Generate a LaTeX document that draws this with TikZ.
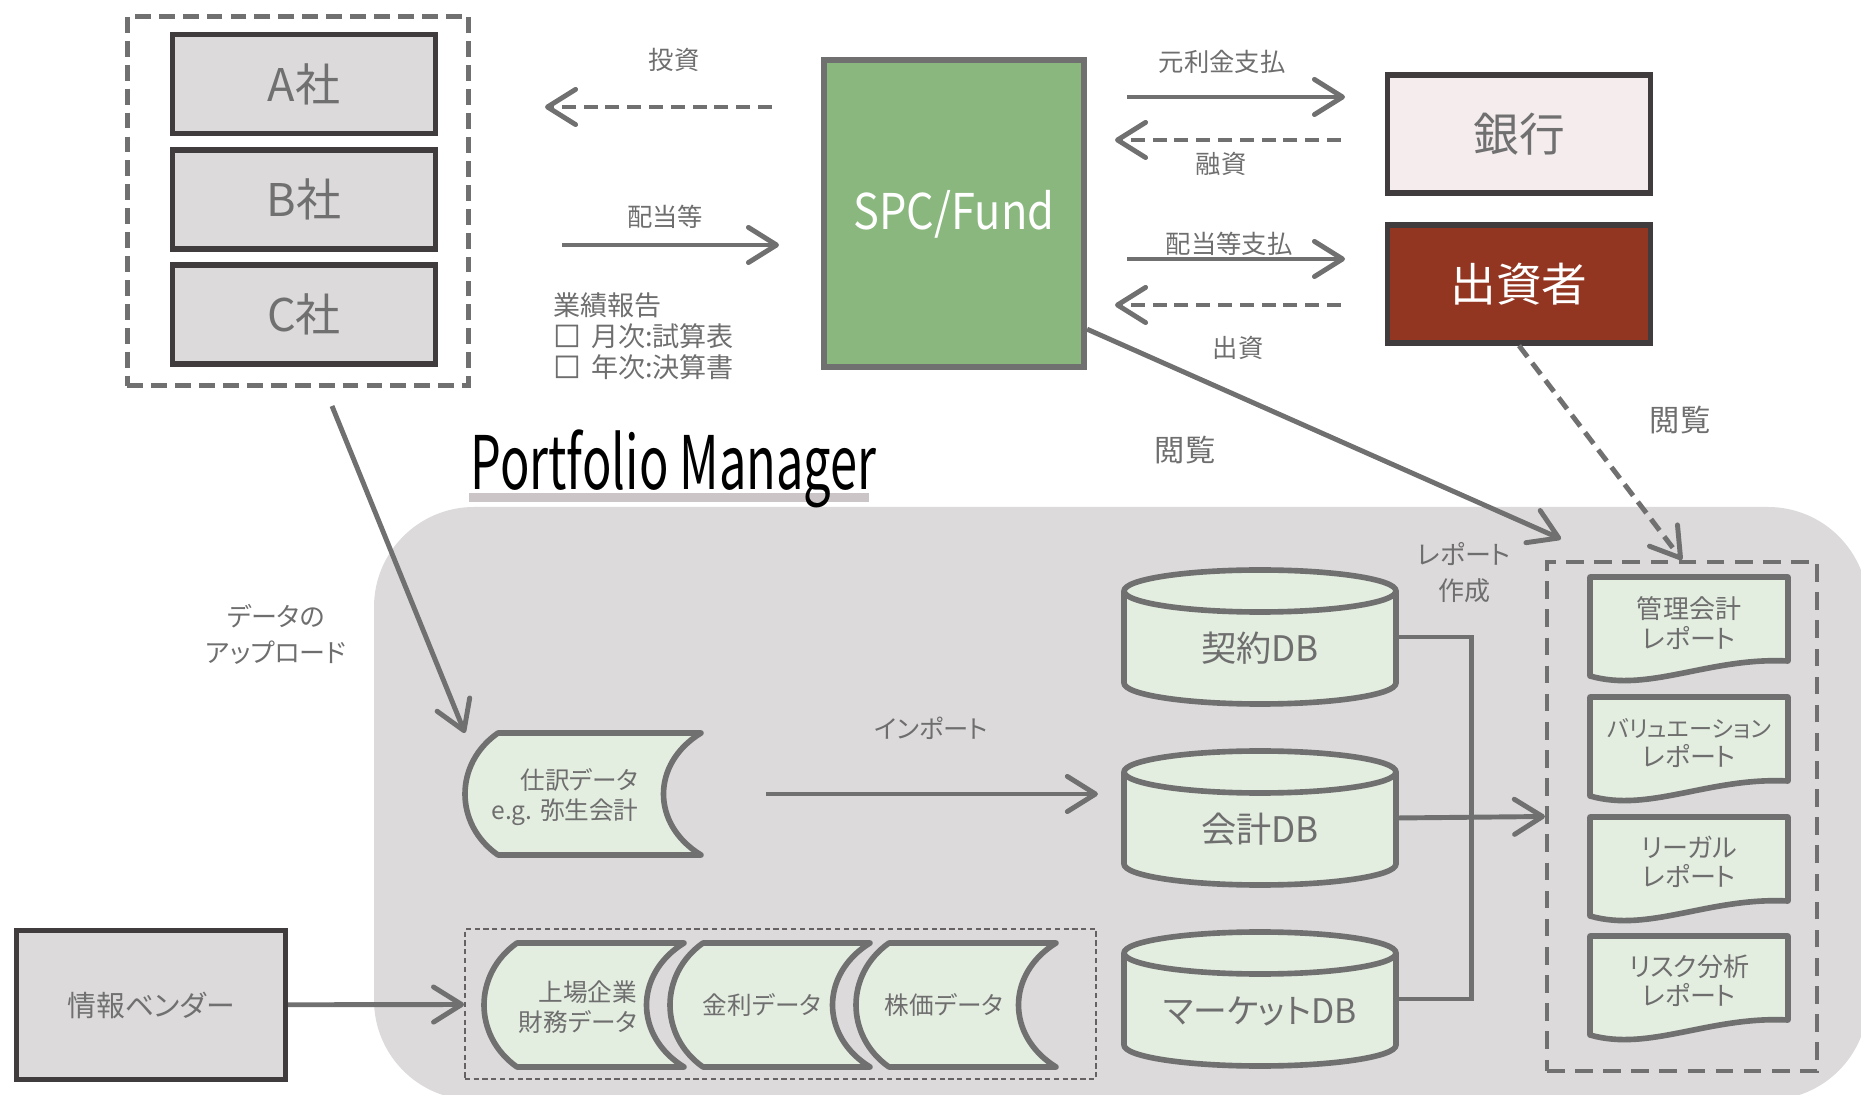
\documentclass[tikz,border=0pt]{standalone}
\usepackage{fontspec}
\usepackage{graphicx}
\setmainfont{Noto Sans CJK JP}[RawFeature={+palt}]
\usetikzlibrary{arrows.meta}
\usetikzlibrary{calc}
\definecolor{lineg}{HTML}{707070}
\definecolor{darkb}{HTML}{403B3C}
\definecolor{boxg}{HTML}{DCDADB}
\definecolor{spcg}{HTML}{8AB77E}
\definecolor{bankp}{HTML}{F4ECED}
\definecolor{invr}{HTML}{923521}
\definecolor{paleg}{HTML}{E3EDE0}
\definecolor{txtg}{HTML}{6E6E6E}
\definecolor{barg}{HTML}{CCC5C8}
\newcommand{\chkbox}{{\addfontfeature{FakeBold=3}□}\hspace{3pt}}
\tikzset{
every picture/.style={line width=1.4pt,
                      >={Straight Barb[length=8pt,width=10pt,round]}},
%%%%%%%%%%  Node styles
company/.style={draw=darkb, fill=boxg, line width=1.5pt, text=lineg,
                minimum width=2.63cm, minimum height=0.99cm,
                font=\fontsize{12.8}{14}\selectfont},
partner/.style={draw=darkb, line width=1.5pt,
                minimum width=2.63cm, minimum height=1.18cm,
                font=\fontsize{13}{15}\selectfont},
spcbox/.style={draw=lineg, fill=spcg, line width=1.7pt, text=white,
               minimum width=2.6cm, minimum height=3.07cm,
               text height=13pt, text depth=4pt,
               font=\fontsize{14}{16}\selectfont},
grpbox/.style={draw=lineg, line width=1.4pt, dash pattern=on 4.5pt off 2.3pt,
               minimum width=3.41cm, minimum height=3.69cm},
holder/.style={inner sep=0pt, outer sep=0pt},
dbbox/.style={holder, minimum width=2.72cm, minimum height=1.34cm, text=txtg,
              text height=15pt, text depth=1pt,
              font=\fontsize{10}{12}\selectfont},
repbox/.style={draw=lineg, line width=1.1pt, dash pattern=on 5pt off 3pt,
               minimum width=2.7cm, minimum height=5.09cm},
tapebox/.style={draw=darkb!80, line width=0.4pt, dash pattern=on 1.5pt off 1pt,
                minimum width=6.31cm, minimum height=1.5cm},
%%%%%%% text styles
lbl/.style={inner sep=0pt, text=txtg, align=center,
            font=\fontsize{7.2}{8.8}\selectfont},
biglbl/.style={lbl, font=\fontsize{8.6}{10}\selectfont},
twolbl/.style={lbl, font=\fontsize{7.4}{10.2}\selectfont},
tapetext/.style={inner sep=0pt, text=txtg, font=\fontsize{7}{8.4}\selectfont},
reptext/.style={inner sep=0pt, text=txtg, align=center,
                font=\fontsize{7.4}{8.3}\selectfont},
title/.style={inner sep=0pt, xscale=0.66, font=\fontsize{21}{24}\selectfont},
%%%%%%% line styles
arr/.style={draw=lineg, ->},
dasharr/.style={arr, dash pattern=on 4pt off 2.2pt},
conn/.style={draw=lineg},
docline/.style={fill=paleg, draw=lineg, line width=1.6pt, line join=round},
pmarea/.style={fill=boxg, rounded corners=1cm},
%%%%%%% shapes
pics/tape/.style 2 args={code={
  \filldraw[docline] (-#1+33,-#2) -- (#1,-#2)
    .. controls (#1-50,-#2/2) and (#1-50,#2/2) .. (#1,#2)
    -- (-#1+33,#2)
    .. controls (-#1-11,#2/2) and (-#1-11,-#2/2) .. (-#1+33,-#2) -- cycle;
}},
pics/report/.style={code={
  \filldraw[docline] (-99,-50) -- (99,-50) -- (99,34)
    .. controls (20,30) and (-40,66) .. (-99,49) -- cycle;
}},
pics/dbcyl/.style={code={
  \filldraw[docline] (-136,-46) -- (-136,46)
    arc[start angle=180, end angle=0, x radius=136, y radius=21]
    -- (136,-46)
    arc[start angle=0, end angle=-180, x radius=136, y radius=21] -- cycle;
  \draw[docline, fill=none] (-136,-46)
    arc[start angle=180, end angle=0, x radius=136, y radius=21];
}}
}

\begin{document}
\begin{tikzpicture}[x=0.01cm, y=-0.01cm]
\useasboundingbox (0,0) rectangle (1861,1095);
%% Portfolio Manager area
\begin{scope}
\clip (0,0) rectangle (1861,1095);
\fill[pmarea] (374,507) rectangle (1868,1100);
\end{scope}
\fill[barg] (469,493) rectangle (869,502);
\node[title, anchor=base west] (pm) at (469,490) {Portfolio Manager};
%% companies
\node[grpbox] (grp) at (298,201) {};
\node[company] (a) at (304,84) {A社};
\node[company] (b) at (304,199.5) {B社};
\node[company] (c) at (304,314.5) {C社};
%% fund, bank, investors
\node[spcbox] (spc) at (954,213.5) {\scalebox{0.88}[1]{SPC/Fund}};
\node[partner, fill=bankp, text=lineg] (bank) at (1519,134) {銀行};
\node[partner, fill=invr, text=white] (inv) at (1519,284) {出資者};
%% money flows
\coordinate (toushi0) at (772,107);
\coordinate (toushi1) at (545,107);
\coordinate (haito0) at (562,245);
\coordinate (haito1) at (779,245);
\coordinate (ganri0) at (1127,97);
\coordinate (ganri1) at (1345,97);
\coordinate (yushi0) at (1341,140);
\coordinate (yushi1) at (1115,140);
\coordinate (shiharai0) at (1127,259);
\coordinate (shiharai1) at (1345,259);
\coordinate (shusshi0) at (1341,305);
\coordinate (shusshi1) at (1115,305);
\draw[dasharr] (toushi0) -- (toushi1);
\draw[arr] (haito0) -- (haito1);
\draw[arr] (ganri0) -- (ganri1);
\draw[dasharr] (yushi0) -- (yushi1);
\draw[arr] (shiharai0) -- (shiharai1);
\draw[dasharr] (shusshi0) -- (shusshi1);
%% labels
\node[lbl] (ltoushi) at (674,60) {投資};
\node[lbl] (lhaito) at (665,217) {配当等};
\node[lbl] (lganri) at (1222,62) {元利金支払};
\node[lbl] (lyushi) at (1221,164) {融資};
\node[lbl] (lshiharai) at (1229,244) {配当等支払};
\node[lbl] (lshusshi) at (1238,348) {出資};
\node[lbl, anchor=north west, align=left, font=\fontsize{7.7}{8.8}\selectfont]
  (perf) at (551,290) {業績報告\\\chkbox 月次:試算表\\\chkbox 年次:決算書};
%% journal data
\node[holder, minimum width=2.36cm, minimum height=1.22cm] (jnl) at (583,794) {};
\pic at (583,794) {tape={118}{61}};
\node[tapetext, align=right] (jtxt) at (565,797) {仕訳データ\\e.g. 弥生会計};
\coordinate (up0) at (332,406);
\draw[arr] (up0) -- (jnl.north west);
\node[twolbl] (lup) at (276,634) {データの\\アップロード};
%% vendor data
\node[company, minimum width=2.69cm, minimum height=1.49cm,
      font=\fontsize{8.2}{10}\selectfont] (vend) at (151,1005) {情報ベンダー};
\node[tapebox] (tapes) at (780.5,1004) {};
\pic at (584,1005) {tape={100}{62}};
\pic at (770,1005) {tape={100}{62}};
\pic at (956,1005) {tape={100}{62}};
\node[tapetext, align=right] (fin) at (578,1007) {上場企業\\財務データ};
\node[tapetext] (rate) at (762,1005) {金利データ};
\node[tapetext] (stock) at (944,1005) {株価データ};
\draw[arr] (vend) -- (tapes);
%% databases
\pic at (1260,637) {dbcyl};
\node[dbbox] (kdb) at (1260,637) {契約DB};
\pic at (1260,818) {dbcyl};
\node[dbbox] (adb) at (1260,818) {会計DB};
\pic at (1260,999) {dbcyl};
\node[dbbox, font=\fontsize{9.6}{12}\selectfont] (mdb) at (1260,999) {マーケットDB};
\draw[arr, shorten <=0.65cm, shorten >=0.26cm] (jnl.east) -- (jnl.east -| adb.west);
\node[lbl] (limport) at (931,728) {インポート};
%% reports
\node[repbox] (rep) at (1682,816.5) {};
\draw[conn] (kdb.east) -- ++(75,0) |- (mdb.east);
\draw[arr] (adb.east) -- (rep.west);
\node[twolbl] (lmake) at (1464,573) {レポート\\作成};
\pic at (1689,627) {report};
\node[reptext] (r1) at (1689,623) {管理会計\\レポート};
\pic at (1689,747) {report};
\node[reptext] (r2) at (1689,743) {{\fontsize{6.6}{8.3}\selectfont バリュエーション}\\レポート};
\pic at (1689,867) {report};
\node[reptext] (r3) at (1689,862) {リーガル\\レポート};
\pic at (1689,986) {report};
\node[reptext] (r4) at (1689,981) {リスク分析\\レポート};
%% viewing
\coordinate (view1) at (1561,539);
\draw[arr] (spc.-41) -- (view1);
\draw[dasharr] (inv.south) -- (rep.north);
\node[biglbl] (lview1) at (1185,450) {閲覧};
\node[biglbl] (lview2) at (1680,420) {閲覧};
\end{tikzpicture}
\end{document}
